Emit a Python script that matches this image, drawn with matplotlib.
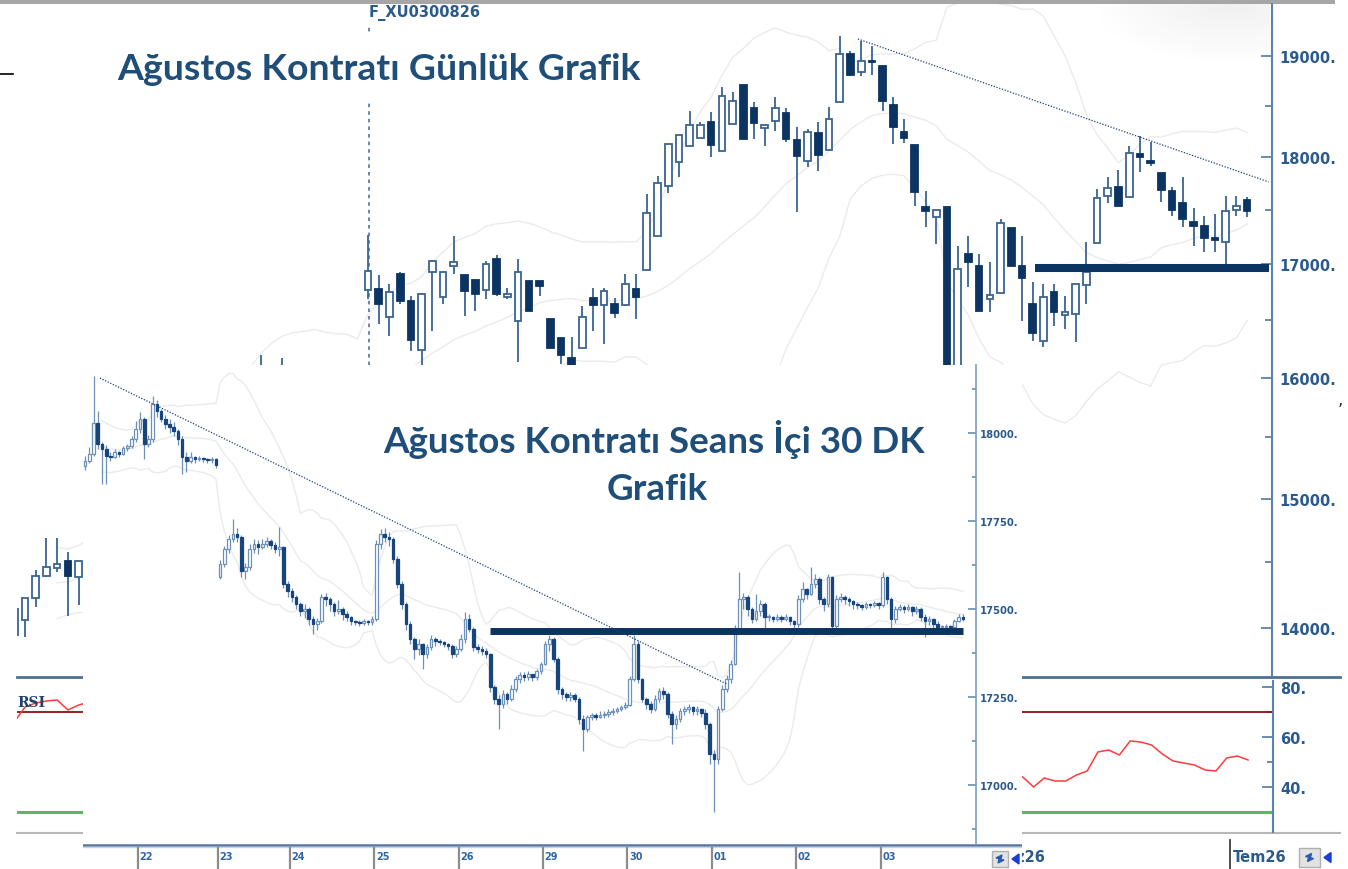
import numpy as np
import pandas as pd
import matplotlib
matplotlib.use("Agg")
import matplotlib.pyplot as plt
from matplotlib.patches import Rectangle, Polygon
from matplotlib.transforms import Bbox
from matplotlib.ticker import FixedLocator, FuncFormatter, NullFormatter

# --- gunluk (daily) veri, k = -1 .. 114 ---
d_open = [13950, 14060, 14226, 14396, 14457, 14507, 14388,
          14507, 14600, 14720, 14680, 14850, 14980, 14920, 15080, 15250, 15200, 15400, 15550, 15500, 15700, 15850, 15800,
          15950, 16080, 16020, 16050, 15950, 15880, 15950, 15850, 15900, 15980,
          16769, 16777, 16528, 16912, 16671, 16240, 16931, 16706, 16985, 16903, 16859, 16769, 17048, 16706, 16493, 16850,
          16850, 16512, 16344, 16171, 16258, 16698, 16636, 16645, 16636, 16777,
          16948, 17259, 17727, 17955, 18108, 18186, 18343, 18061, 18323, 18708, 18480, 18284, 18352, 18431, 18167, 17964,
          18235, 18070, 18539, 19020, 18838, 18949, 18900, 18509, 18245, 18118, 17529, 17434,
          17529, 15900, 17094, 16985, 16689, 16742, 17333,
          16985, 16645, 16318, 16751, 16547, 16555, 16813, 17195, 17631, 17716, 17622, 18032, 17964, 17850, 17679, 17565,
          17389, 17351, 17240, 17204, 17501, 17594]
d_high = [14150, 14230, 14441, 14689, 14689, 14577, 14510,
          14650, 14760, 14780, 14880, 15020, 15050, 15120, 15290, 15310, 15430, 15590, 15620, 15740, 15880, 15920, 15990,
          16200, 16100, 16170, 16090, 16000, 15990, 16010, 15940, 16040, 16060,
          17268, 16903, 16823, 16931, 16716, 16740, 17035, 16935, 17259, 16905, 16860, 17030, 17085, 16786, 17048, 16852,
          16852, 16514, 16346, 16353, 16626, 16786, 16786, 16698, 16912, 16912,
          17650, 17821, 18130, 18217, 18450, 18343, 18440, 18688, 18638, 18710, 18539, 18316, 18589, 18480, 18294, 18274,
          18343, 18490, 19208, 19051, 19153, 19101, 18902, 18589, 18372, 18120, 17679, 17503,
          17531, 17168, 17259, 17094, 17021, 17417, 17335,
          17259, 16841, 16823, 16823, 16716, 16825, 17204, 17698, 17812, 17878, 18108, 18206, 18148, 17852, 17716, 17812,
          17519, 17445, 17462, 17631, 17631, 17622]
d_low = [13920, 13933, 14158, 14390, 14424, 14090, 14173,
         14450, 14560, 14610, 14650, 14800, 14870, 14900, 15050, 15150, 15180, 15360, 15440, 15470, 15650, 15750, 15770,
         15900, 15960, 15980, 15900, 15820, 15850, 15800, 15780, 15870, 15880,
         16689, 16467, 16362, 16645, 16232, 16076, 16405, 16645, 16912, 16538, 16582, 16689, 16716, 16689, 16136, 16580,
         16716, 16255, 16120, 16059, 16255, 16405, 16292, 16520, 16630, 16512,
         16945, 17255, 17660, 17812, 18105, 18184, 18003, 18058, 18320, 18175, 18177, 18108, 18255, 18148, 17481, 17906,
         17869, 18068, 18537, 18798, 18798, 18808, 18450, 18128, 18137, 17537, 17342, 17186,
         15850, 15800, 16796, 16580, 16573, 16740, 16983,
         16493, 16318, 16265, 16449, 16423, 16310, 16645, 17193, 17565, 17535, 17620, 17860, 17917, 17575, 17445, 17342,
         17168, 17112, 17112, 16985, 17445, 17434]
d_close = [14140, 14226, 14396, 14465, 14484, 14396, 14507,
           14600, 14720, 14680, 14850, 14980, 14920, 15080, 15250, 15200, 15400, 15550, 15500, 15700, 15850, 15800, 15950,
           16080, 16020, 16050, 15950, 15880, 15950, 15850, 15900, 15980, 15920,
           16940, 16645, 16751, 16671, 16327, 16733, 17030, 16931, 17021, 16759, 16733, 17003, 16733, 16733, 16931, 16582,
           16804, 16258, 16198, 16103, 16528, 16636, 16759, 16565, 16823, 16706,
           17472, 17755, 18128, 18215, 18314, 18314, 18118, 18598, 18550, 18177, 18333, 18314, 18480, 18177, 18012, 18245,
           18022, 18372, 19020, 18808, 18949, 18940, 18550, 18294, 18186, 17669, 17490, 17501,
           15949, 16958, 17021, 16582, 16724, 17379, 16985,
           16877, 16388, 16706, 16573, 16573, 16823, 16931, 17613, 17707, 17537, 18041, 18003, 17945, 17688, 17501, 17417,
           17351, 17240, 17222, 17490, 17537, 17490]
d_rsi = [66, 72, 73.6, 74.4, 74.8, 70.8, 72.8,
         74, 75, 72, 73, 75, 76, 73, 74, 76, 77, 74, 75, 77, 78, 75, 76,
         77, 74, 75, 70, 66, 68, 65, 67, 69, 66,
         55, 50, 53, 48, 44, 50, 55, 52, 56, 49, 47, 54, 50, 50, 55, 48, 47, 42, 39, 37, 45, 48, 50, 47, 51, 49,
         58, 64, 69, 71, 73, 73, 68, 74, 75, 68, 66, 66, 68, 63, 60, 64, 61, 65, 74, 71, 72, 71, 62, 57, 56, 48, 47, 48,
         33, 45, 44, 39, 40, 50, 45,
         44.0, 40.0, 43.6, 42.4, 42.4, 44.8, 46.4, 54.0, 54.8, 52.8, 58.4, 58.0, 56.8, 53.2, 50.4, 49.6, 48.8, 46.8,
         46.4, 51.6, 52.4, 50.8]
d_index = np.arange(-1, 115)
month_labels = ["Haz26", "Tem26"]
month_pos = [90.1, 112.3]
d_ticks = [14000, 15000, 16000, 17000, 18000, 19000]
d_minor = [14500, 15500, 16500, 17500, 18500]
d_support = 16966
d_trend = ([77.7, 116.0], [19173, 17765])
contract_start = 32.09

# --- seans ici 30 dk veri ---
i_close = [
    17920, 17940, 18028, 17969, 17955, 17935, 17932, 17946, 17940, 17957, 17963, 17983, 18011,
    18040, 17969, 17983, 18082, 18062, 18040, 18026, 18017, 18006, 17983, 17932, 17920, 17932, 17926, 17929, 17926,
    17923, 17926, 17909,
    17628, 17671, 17699, 17713, 17705, 17608, 17620, 17671, 17685, 17677, 17685, 17693, 17682, 17671, 17677, 17571,
    17551,
    17534, 17514, 17494, 17500, 17472, 17458, 17466, 17534, 17529, 17514, 17494, 17500, 17486, 17477, 17466, 17463,
    17460, 17466, 17463, 17472,
    17685, 17713, 17705, 17699, 17642, 17571, 17514, 17458, 17415, 17387, 17401, 17372, 17392, 17415, 17409, 17406,
    17401, 17395, 17372, 17387,
    17415, 17472, 17443, 17392, 17387, 17381, 17372, 17279, 17245, 17230, 17259, 17245, 17273, 17301, 17313, 17307,
    17316, 17307, 17324, 17344,
    17401, 17415, 17358, 17273, 17259, 17250, 17256, 17245, 17188, 17159, 17193, 17199, 17193, 17199, 17202, 17208,
    17211, 17216, 17222, 17228,
    17301, 17401, 17301, 17245, 17230, 17216, 17245, 17267, 17259, 17202, 17174, 17188, 17211, 17216, 17222, 17211,
    17216, 17205, 17174, 17088,
    17074, 17216, 17273, 17301, 17344, 17443, 17529, 17534, 17500, 17472, 17494, 17514, 17477, 17477, 17472, 17477,
    17472, 17477, 17466, 17458,
    17529, 17557, 17543, 17571, 17585, 17529, 17514, 17591, 17452, 17529, 17534, 17529, 17523, 17514, 17511, 17506,
    17514, 17511, 17517, 17511,
    17591, 17529, 17472, 17500, 17506, 17500, 17506, 17494, 17500, 17477, 17466, 17472, 17458, 17449, 17449, 17452,
    17449, 17466, 17477, 17472]
i_high = [
    17935, 17960, 18162, 18062, 17975, 17965, 17945, 17955, 17950, 17962, 17970, 17990, 18035,
    18060, 18045, 17995, 18105, 18095, 18068, 18050, 18040, 18030, 18010, 17990, 17945, 17945, 17935, 17935, 17932,
    17930, 17932, 17930,
    17640, 17680, 17710, 17756, 17730, 17710, 17630, 17685, 17700, 17695, 17700, 17705, 17700, 17690, 17733, 17680,
    17580,
    17560, 17540, 17520, 17515, 17505, 17480, 17475, 17543, 17545, 17535, 17520, 17525, 17505, 17495, 17480, 17470,
    17468, 17472, 17470, 17480,
    17695, 17727, 17730, 17720, 17705, 17650, 17580, 17520, 17465, 17420, 17415, 17405, 17400, 17425, 17420, 17415,
    17410, 17405, 17400, 17395,
    17430, 17492, 17485, 17450, 17400, 17395, 17390, 17375, 17285, 17255, 17270, 17265, 17285, 17310, 17320, 17320,
    17325, 17315, 17330, 17350,
    17410, 17426, 17420, 17365, 17280, 17265, 17265, 17262, 17250, 17200, 17200, 17205, 17205, 17210, 17210, 17215,
    17218, 17222, 17228, 17235,
    17310, 17426, 17410, 17305, 17250, 17240, 17255, 17275, 17280, 17265, 17210, 17200, 17220, 17225, 17230, 17225,
    17225, 17220, 17215, 17180,
    17100, 17225, 17285, 17313, 17355, 17455, 17605, 17545, 17540, 17505, 17543, 17525, 17520, 17485, 17480, 17485,
    17482, 17485, 17480, 17470,
    17540, 17577, 17560, 17619, 17600, 17590, 17535, 17600, 17595, 17540, 17545, 17540, 17535, 17525, 17520, 17515,
    17520, 17518, 17522, 17520,
    17605, 17595, 17535, 17510, 17515, 17512, 17515, 17510, 17510, 17505, 17485, 17480, 17475, 17465, 17455, 17458,
    17455, 17472, 17485, 17485]
i_low = [
    17895, 17915, 17935, 17955, 17855, 17855, 17920, 17930, 17932, 17938, 17950, 17958, 17975,
    18000, 17926, 17960, 17975, 18045, 18030, 18010, 18000, 17990, 17965, 17884, 17890, 17915, 17915, 17920, 17918,
    17915, 17915, 17900,
    17585, 17620, 17660, 17690, 17690, 17591, 17585, 17610, 17660, 17655, 17670, 17675, 17670, 17660, 17650, 17560,
    17535,
    17520, 17500, 17480, 17475, 17455, 17429, 17440, 17460, 17510, 17495, 17480, 17485, 17470, 17465, 17455, 17455,
    17452, 17455, 17455, 17455,
    17465, 17670, 17690, 17680, 17630, 17560, 17500, 17440, 17400, 17358, 17370, 17330, 17360, 17385, 17395, 17398,
    17392, 17385, 17360, 17365,
    17380, 17405, 17435, 17380, 17375, 17370, 17360, 17265, 17230, 17159, 17220, 17230, 17240, 17265, 17290, 17295,
    17300, 17295, 17300, 17315,
    17340, 17380, 17350, 17260, 17245, 17240, 17240, 17235, 17175, 17097, 17150, 17185, 17185, 17190, 17190, 17195,
    17200, 17205, 17210, 17215,
    17225, 17295, 17290, 17235, 17215, 17205, 17210, 17235, 17245, 17190, 17117, 17160, 17180, 17200, 17205, 17200,
    17200, 17195, 17160, 17060,
    16924, 17060, 17210, 17265, 17290, 17340, 17435, 17500, 17480, 17460, 17465, 17480, 17440, 17465, 17462, 17465,
    17462, 17465, 17455, 17440,
    17450, 17520, 17530, 17540, 17560, 17515, 17495, 17505, 17440, 17445, 17520, 17515, 17510, 17500, 17500, 17498,
    17500, 17502, 17505, 17500,
    17505, 17515, 17440, 17460, 17495, 17490, 17495, 17480, 17485, 17465, 17420, 17455, 17440, 17430, 17440, 17442,
    17440, 17445, 17462, 17465]
i_gap_open = {0: 17905, 32: 17591}
day_labels = ["22", "23", "24", "25", "26", "29", "30", "01", "02", "03"]
day_start = [13, 32, 49, 69, 89, 109, 129, 149, 169, 189]
i_ticks = [17000, 17250, 17500, 17750, 18000]
i_minor = [16875, 17125, 17375, 17625, 17875, 18125]
i_support = (17438, 95.9, 208.0)
i_trend = ([3.5, 152.1], [18156, 17287])

assert len(d_open) == len(d_high) == len(d_low) == len(d_close) == len(d_rsi) == len(d_index)
assert len(i_close) == len(i_high) == len(i_low)

NAVY = "#0b3463"
EDGE = "#3a6591"
SPINE = "#5b82ad"
LABEL = "#2b5a8c"
BAND = "#ebebeb"

W, H = 1348, 870
fig = plt.figure(figsize=(W / 100, H / 100), dpi=100)


def px_axes(x0, y0, x1, y1, z):
    a = fig.add_axes([x0 / W, 1 - y1 / H, (x1 - x0) / W, (y1 - y0) / H], zorder=z)
    a.patch.set_alpha(0)
    return a


def candles(ax, x, o, h, l, c, width, edge, face, lw, minh):
    o, h, l, c = map(np.asarray, (o, h, l, c))
    h = np.maximum(h, np.maximum(o, c))
    l = np.minimum(l, np.minimum(o, c))
    up = c >= o
    ax.vlines(x, l, h, color=edge, lw=lw, zorder=2)
    bot = np.minimum(o, c)
    hgt = np.maximum(np.abs(c - o), minh)
    ax.bar(x[up], hgt[up], width, bot[up], facecolor="white", edgecolor=edge, lw=lw, zorder=3)
    ax.bar(x[~up], hgt[~up], width, bot[~up], facecolor=face, edgecolor=face, lw=lw, zorder=3)


def bands(ax, x, close, n=20):
    s = pd.Series(close, dtype=float)
    m = s.rolling(n, min_periods=5).mean()
    sd = s.rolling(n, min_periods=5).std(ddof=0)
    for line in (m, m + 2 * sd, m - 2 * sd):
        ax.plot(x, line, color=BAND, lw=1.0, zorder=1)


def button(ax, x0, y0, w, h):
    # kucuk gri dugme ve yon oklari
    ax.add_patch(Rectangle((x0, y0), w, h, facecolor="#e2e2e2", edgecolor="#b0b0b0", lw=1))
    cx, cy = x0 + w / 2, y0 + h / 2
    ax.add_patch(Polygon([[cx - 4, cy - 1], [cx + 2, cy - 4], [cx + 1, cy]], color="#2a5bb0"))
    ax.add_patch(Polygon([[cx + 4, cy + 1], [cx - 2, cy + 4], [cx - 1, cy]], color="#2a5bb0"))
    ax.add_patch(Polygon([[x0 + w + 11, cy - 5], [x0 + w + 11, cy + 5], [x0 + w + 4, cy]], color="#1a3fd0"))


# ---------- arka plan ----------
bg = px_axes(0, 0, W, H, 0)
bg.set_xlim(0, W)
bg.set_ylim(H, 0)
bg.axis("off")
gx, gy = np.meshgrid(np.linspace(1100, 1270, 120), np.linspace(5, 70, 50))
shade = np.clip(1 - np.hypot((gx - 1230) / 140, (gy - 5) / 60), 0, 1) * 0.13
img = np.ones(gx.shape + (4,)) * 0.55
img[..., 3] = shade
bg.imshow(img, extent=(1100, 1270, 70, 5), aspect="auto", interpolation="bilinear")
bg.set_xlim(0, W)
bg.set_ylim(H, 0)
bg.add_patch(Rectangle((0, 0), 1335, 4.5, color="#a6a6a6", lw=0))
bg.plot([17, 1340], [678, 678], color="#4f6f94", lw=2.0)
bg.plot([17, 1340], [833.5, 833.5], color="#b8b8b8", lw=1.5)
bg.plot([0, 13], [75, 75], color="black", lw=1.2)
bg.text(1338, 400, ",", fontsize=12, color="#333333", va="center")
button(bg, 1299, 849, 21, 19)

# ---------- gunluk grafik ----------
ax = px_axes(17, 5, 1272, 677, 1)
ax.set_yscale("log")
ax.set_xlim(-0.746, 116.32)
ax.set_ylim(13646, 19535)
bands(ax, d_index, d_close)
candles(ax, d_index, d_open, d_high, d_low, d_close, 0.62, EDGE, NAVY, 1.3, 6)
ax.vlines(contract_start, 13646, 19328, colors="#5b7fa8", linestyles=(0, (2, 2.2)), lw=1.3, zorder=1)
ax.hlines(d_support, 94.2, 116.0, colors=NAVY, lw=5.8, zorder=4)
ax.plot(d_trend[0], d_trend[1], color="#1d3f77", lw=0.9, ls=(0, (1, 1.3)), zorder=4)
ax.yaxis.tick_right()
ax.yaxis.set_major_locator(FixedLocator(d_ticks))
ax.yaxis.set_major_formatter(FuncFormatter(lambda v, p: f"{v:.0f}."))
ax.yaxis.set_minor_locator(FixedLocator(d_minor))
ax.yaxis.set_minor_formatter(NullFormatter())
ax.tick_params(axis="y", which="major", direction="in", length=8, width=1.3, color=SPINE,
               labelsize=10.5, labelcolor=LABEL, pad=5)
ax.tick_params(axis="y", which="minor", direction="in", length=5, width=1.3, color=SPINE)
plt.setp(ax.get_yticklabels(), fontweight="bold")
ax.set_xticks([])
for s in ("top", "left", "bottom"):
    ax.spines[s].set_visible(False)
ax.spines["right"].set_color(SPINE)
ax.spines["right"].set_linewidth(1.5)
ax.text(contract_start, 1.0, "F_XU0300826", transform=ax.get_xaxis_transform(), fontsize=10.5,
        fontweight="bold", color=LABEL, ha="left", va="top")

# ---------- RSI ----------
rx = px_axes(17, 682, 1273, 833, 1)
rx.set_xlim(-0.746, 116.32)
rx.set_ylim(22.0, 82.4)
rx.axhline(70, color="#8b1010", lw=1.3)
rx.axhline(30, color="#5cb85c", lw=2.2)
rx.plot(d_index, d_rsi, color="#ff3b3b", lw=1.1)
rx.yaxis.tick_right()
rx.yaxis.set_major_locator(FixedLocator([40, 60, 80]))
rx.yaxis.set_major_formatter(FuncFormatter(lambda v, p: f"{v:.0f}."))
rx.yaxis.set_minor_locator(FixedLocator([50, 70]))
rx.tick_params(axis="y", which="major", direction="in", length=8, width=1.3, color=SPINE,
               labelsize=10.5, labelcolor=LABEL, pad=5)
rx.tick_params(axis="y", which="minor", direction="in", length=4, width=1.3, color=SPINE)
plt.setp(rx.get_yticklabels(), fontweight="bold")
rx.set_xticks([])
for s in ("top", "left", "bottom"):
    rx.spines[s].set_visible(False)
rx.spines["right"].set_color(SPINE)
rx.spines["right"].set_linewidth(1.5)
rx.text(0.0, 0.86, "RSI", transform=rx.transAxes, fontsize=10, fontweight="bold",
        color="#1f3f6e", family="DejaVu Serif", va="center")
xt = rx.get_xaxis_transform()
clip = Bbox.from_extents(1022, 0, W, H)
for lab, pos in zip(month_labels, month_pos):
    rx.plot([pos, pos], [-0.05, -0.26], transform=xt, color="#404040", lw=1.3, clip_on=False)
    t = rx.text(pos + 0.25, -0.16, lab, transform=xt, fontsize=10.5, fontweight="bold", color=LABEL,
                ha="left", va="center")
    t.set_clip_box(clip)
    t.set_clip_on(True)

# ---------- seans ici 30 dk (ust katman) ----------
cover = px_axes(83, 366, 1022, 870, 4)
cover.set_xlim(83, 1022)
cover.set_ylim(870, 366)
cover.axis("off")
cover.add_patch(Rectangle((83, 366), 939, 504, facecolor="white", lw=0, zorder=0))
cover.plot([83, 1022], [845.5, 845.5], color="#5577a0", lw=1.8)
cover.plot([83, 1022], [847.5, 847.5], color="#c9d4e2", lw=1.0)
button(cover, 992, 852, 16, 16)

ix = px_axes(83, 366, 976, 845, 5)
ix.set_xlim(-0.5, 211.1)
ix.set_ylim(16833, 18193)
i_x = np.arange(len(i_close))
i_open = [i_gap_open.get(i, i_close[i - 1] if i else 0) for i in range(len(i_close))]
bands(ix, i_x, i_close)
candles(ix, i_x, i_open, i_high, i_low, i_close, 0.62, "#6d90b8", "#17457c", 0.9, 3)
ix.hlines(*i_support, colors=NAVY, lw=5.0, zorder=4)
ix.plot(i_trend[0], i_trend[1], color="#1d3f77", lw=0.9, ls=(0, (1, 1.3)), zorder=4)
ix.yaxis.tick_right()
ix.yaxis.set_major_locator(FixedLocator(i_ticks))
ix.yaxis.set_major_formatter(FuncFormatter(lambda v, p: f"{v:.0f}."))
ix.yaxis.set_minor_locator(FixedLocator(i_minor))
ix.tick_params(axis="y", which="major", direction="in", length=6, width=1.1, color=SPINE,
               labelsize=7.2, labelcolor=LABEL, pad=3)
ix.tick_params(axis="y", which="minor", direction="in", length=3, width=1.1, color=SPINE)
plt.setp(ix.get_yticklabels(), fontweight="bold")
ix.set_xticks([])
for s in ("top", "left", "bottom"):
    ix.spines[s].set_visible(False)
ix.spines["right"].set_color("#7d9cc0")
ix.spines["right"].set_linewidth(1.2)
ixt = ix.get_xaxis_transform()
for lab, st in zip(day_labels, day_start):
    ix.plot([st - 0.5, st - 0.5], [-0.009, -0.05], transform=ixt, color="#8c8c8c", lw=1.6, clip_on=False)
    ix.text(st - 0.1, -0.026, lab, transform=ixt, fontsize=7, fontweight="bold", color="#2f64a6",
            ha="left", va="center", clip_on=False)

# ---------- basliklar ----------
ov = px_axes(0, 0, W, H, 20)
ov.set_xlim(0, W)
ov.set_ylim(H, 0)
ov.axis("off")
ov.add_patch(Rectangle((105, 36), 555, 68, facecolor="white", lw=0, zorder=1))
TITLE = "#1f4e79"
renderer = fig.canvas.get_renderer()


def fit_text(x, y, s, width_px):
    t = ov.text(x, y, s, fontsize=20, fontweight="bold", color=TITLE, family="Lato",
                ha="center", va="baseline", zorder=3)
    w = t.get_window_extent(renderer).width
    t.set_fontsize(20 * width_px / w)
    return t


fit_text(378.5, 80, "Ağustos Kontratı Günlük Grafik", 523)
t2 = fit_text(654, 453, "Ağustos Kontratı Seans İçi 30 DK", 542)
ov.text(657, 500, "Grafik", fontsize=t2.get_fontsize(), fontweight="bold", color=TITLE,
        family="Lato", ha="center", va="baseline", zorder=3)

fig.savefig("out.png", dpi=100)
